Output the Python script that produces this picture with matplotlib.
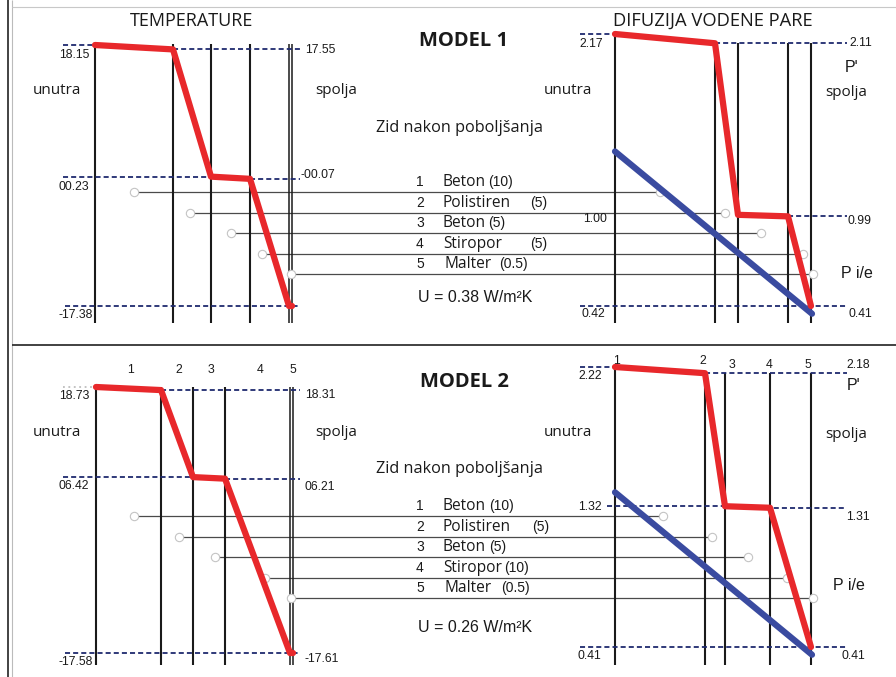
import matplotlib
import matplotlib.pyplot as plt

matplotlib.use('Agg')

# --- data --- #
layer_names = ['Beton', 'Polistiren', 'Beton', 'Stiropor', 'Malter']
thick_m1 = ['(10)', '(5)', '(5)', '(5)', '(0.5)']
thick_m2 = ['(10)', '(5)', '(5)', '(10)', '(0.5)']
u_m1 = 0.38
u_m2 = 0.26

# temperature at layer boundaries (deg C)
temp_x_m1 = [95, 173, 211, 250, 289, 292]
temp_m1 = [18.15, 17.55, 0.23, -0.07, -17.38, -17.38]
temp_x_m2 = [96, 161, 193, 225, 290, 293]
temp_m2 = [18.73, 18.31, 6.42, 6.21, -17.61, -17.61]
temp_lbl_m1 = ['18.15', '17.55', '00.23', '-00.07', '-17.38']
temp_lbl_m2 = ['18.73', '18.31', '06.42', '06.21', '-17.58', '-17.61']

# saturation (P') and partial (P i/e) vapour pressure (kPa)
pres_x_m1 = [615, 715, 738, 788, 811]
psat_m1 = [2.17, 2.11, 1.00, 0.99, 0.41]
pres_x_m2 = [615, 705, 725, 770, 811]
psat_m2 = [2.22, 2.18, 1.32, 1.31, 0.41]
pvap_x = [615, 812]
pvap_m1 = [1.41, 0.36]
pvap_m2 = [1.41, 0.36]
pres_lbl_m1 = ['2.17', '2.11', '1.00', '0.99', '0.42', '0.41']
pres_lbl_m2 = ['2.22', '2.18', '1.32', '1.31', '0.41', '0.41']

W, H = 896, 677
RED = '#e8282b'
BLUE = '#3a4ba0'
NAVY = '#1f2a6e'
INK = '#1a1a1a'
NUM = 'Liberation Sans'
WORD = 'Open Sans'
DASH = (0, (2.8, 1.7))

fig = plt.figure(figsize=(W / 100, H / 100), dpi=100)
bg = fig.add_axes([0, 0, 1, 1])
bg.set_xlim(0, W)
bg.set_ylim(H, 0)
bg.axis('off')


def panel(top_px, bot_px, vmax, vmin):
    ax = fig.add_axes([0, 1 - bot_px / H, 1, (bot_px - top_px) / H])
    ax.set_xlim(0, W)
    ax.set_ylim(vmin, vmax)
    ax.axis('off')
    ax.patch.set_alpha(0)
    return ax


def txt(x, y, s, size=8.8, family=NUM, **kw):
    bg.text(x, y, s, ha='center', va='center', fontsize=size,
            family=family, color=INK, **kw)


def dashed(ax, v, x0, x1, color=NAVY, ls=DASH):
    ax.hlines(v, x0, x1, colors=color, linestyles=ls, lw=1.3, zorder=3,
              clip_on=False)


# frame
bg.vlines(8, 0, H, colors='#222222', lw=1.2)
bg.vlines(12, 0, H, colors='#bbbbbb', lw=0.8)
bg.hlines(7, 12, W, colors='#c8c8c8', lw=0.8)
bg.hlines(345, 12, W, colors='#333333', lw=1.3)


def leaders(ys, xs0, xs1):
    bg.hlines(ys, xs0, xs1, colors='#4a4a4a', lw=0.9, zorder=1)
    bg.plot(xs0 + xs1, ys + ys, 'o', ms=6, mfc='white', mec='#c4c4c4',
            mew=0.8, ls='none', zorder=2)


def model(top, temp_x, temp, temp_lbl, pres_x, psat, pvap, pres_lbl,
          thick, u, name):
    off = top
    first = name == 'MODEL 1'
    # temperature panel
    axT = panel(off + (45 if first else 47), off + (306 if first else 313),
                max(temp), min(temp))
    vtop = off + (44 if first else 47)
    vbot = off + (323 if first else 325)
    bg.vlines(temp_x[0], off + (45 if first else 47), vbot,
              colors=INK, lw=1.5, zorder=2)
    bg.vlines(temp_x[1:4], vtop, vbot, colors=INK, lw=1.5, zorder=2)
    bg.vlines(temp_x[4:], vtop, vbot, colors=INK, lw=1.1, zorder=2)
    axT.plot(temp_x, temp, color=RED, lw=4.5, solid_capstyle='round',
             solid_joinstyle='round', zorder=5, clip_on=False)
    if first:
        dashed(axT, temp[0], 63, temp_x[0])
    else:
        dashed(axT, temp[0], 63, temp_x[0], color='#bdbdbd', ls=(0, (1, 2)))
    dashed(axT, temp[1], temp_x[1], 300)
    dashed(axT, temp[2], 63, temp_x[2])
    dashed(axT, temp[3], temp_x[3], 300)
    dashed(axT, temp[4], 65, 298)

    # pressure panel
    pt = off + (34 if first else 27)
    pb = off + (306 if first else 307)
    axP = panel(pt, pb, max(psat), min(psat))
    ptop = off + (43 if first else 33)
    bg.vlines(pres_x[0], pt, vbot, colors=INK, lw=1.5, zorder=2)
    bg.vlines(pres_x[1:], ptop, vbot, colors=INK, lw=1.5, zorder=2)
    axP.plot(pres_x, psat, color=RED, lw=4.5, solid_capstyle='round',
             solid_joinstyle='round', zorder=5, clip_on=False)
    axP.plot(pvap_x, pvap, color=BLUE, lw=4.5, solid_capstyle='round',
             zorder=4, clip_on=False)
    dashed(axP, psat[0], 580, pres_x[0])
    dashed(axP, psat[1], pres_x[1], 847)
    if first:
        dashed(axP, psat[3], pres_x[3], 847)
    else:
        dashed(axP, psat[2], 607, pres_x[2])
        dashed(axP, psat[3], pres_x[2], 845)
    dashed(axP, psat[4], 580, 847)

    # titles and side words
    if first:
        txt(192, off + 21, 'TEMPERATURE', size=13, family=WORD)
        txt(713, off + 21, 'DIFUZIJA VODENE PARE', size=13.2, family=WORD)
    txt(464, off + (41 if first else 42), name, size=14.5,
        family=WORD, weight='bold')
    wy = off + (91 if first else 93)
    txt(57, wy, 'unutra', size=11, family=WORD)
    txt(336, wy, 'spolja', size=11, family=WORD)
    txt(568, wy, 'unutra', size=11, family=WORD)
    txt(846, wy + 1, 'spolja', size=11, family=WORD)
    txt(459, off + (128 if first else 129),
        'Zid nakon poboljšanja', size=11.7, family=WORD)

    # value labels
    if first:
        txt(74, off + 55, temp_lbl[0])
        txt(320, off + 50, temp_lbl[1])
        txt(74, off + 187, temp_lbl[2])
        txt(318, off + 175, temp_lbl[3])
        txt(76, off + 315, temp_lbl[4])
        txt(591, off + 44, pres_lbl[0])
        txt(861, off + 43, pres_lbl[1])
        txt(595, off + 219, pres_lbl[2])
        txt(860, off + 221, pres_lbl[3])
        txt(593, off + 314, pres_lbl[4])
        txt(860, off + 314, pres_lbl[5])
        txt(852, off + 67, "P'", size=11.5, family=NUM)
        txt(857, off + 274, 'P i/e', size=11.5, family=NUM)
    else:
        txt(74, off + 56, temp_lbl[0])
        txt(320, off + 55, temp_lbl[1])
        txt(74, off + 146, temp_lbl[2])
        txt(320, off + 147, temp_lbl[3])
        txt(76, off + 322, temp_lbl[4])
        txt(322, off + 319, temp_lbl[5])
        txt(590, off + 36, pres_lbl[0])
        txt(858, off + 25, pres_lbl[1])
        txt(590, off + 167, pres_lbl[2])
        txt(858, off + 177, pres_lbl[3])
        txt(589, off + 316, pres_lbl[4])
        txt(853, off + 316, pres_lbl[5])
        txt(854, off + 45, "P'", size=11.5, family=NUM)
        txt(849, off + 245, 'P i/e', size=11.5, family=NUM)
        for i, xl in enumerate([131, 179, 211, 260, 293]):
            txt(xl, off + 30, str(i + 1))
        for i, (xl, yl) in enumerate(zip([617, 703, 732, 769, 808],
                                         [21, 21, 25, 25, 25])):
            txt(xl, off + yl, str(i + 1))

    # layer list
    row0 = off + (182 if first else 166)
    for i, (lname, th) in enumerate(zip(layer_names, thick)):
        ry = row0 + i * 20.6
        txt(420, ry, str(i + 1), size=10)
        bg.text(443 if i < 4 else 445, ry, lname, ha='left', va='center',
                fontsize=11.2, family=WORD, color=INK)
        if first:
            tx = [488, 530, 488, 530, 499][i]
        else:
            tx = [489, 532, 489, 504, 501][i]
        bg.text(tx, ry, th, ha='left', va='center', fontsize=10,
                family=NUM, color=INK)
    txt(475, off + (297 if first else 288), f'U = {u:.2f} W/m²K', size=11.5)

    # leader lines between list and diagrams
    ly = [row0 + 10 + i * 20.6 for i in range(5)]
    if first:
        leaders(ly, [134, 190, 231, 262, 291], [660, 725, 761, 803, 813])
    else:
        leaders(ly, [134, 179, 215, 265, 291], [663, 712, 748, 787, 813])


model(0, temp_x_m1, temp_m1, temp_lbl_m1, pres_x_m1, psat_m1, pvap_m1,
      pres_lbl_m1, thick_m1, u_m1, 'MODEL 1')
model(340, temp_x_m2, temp_m2, temp_lbl_m2, pres_x_m2, psat_m2, pvap_m2,
      pres_lbl_m2, thick_m2, u_m2, 'MODEL 2')

fig.savefig('out.png', dpi=100)
